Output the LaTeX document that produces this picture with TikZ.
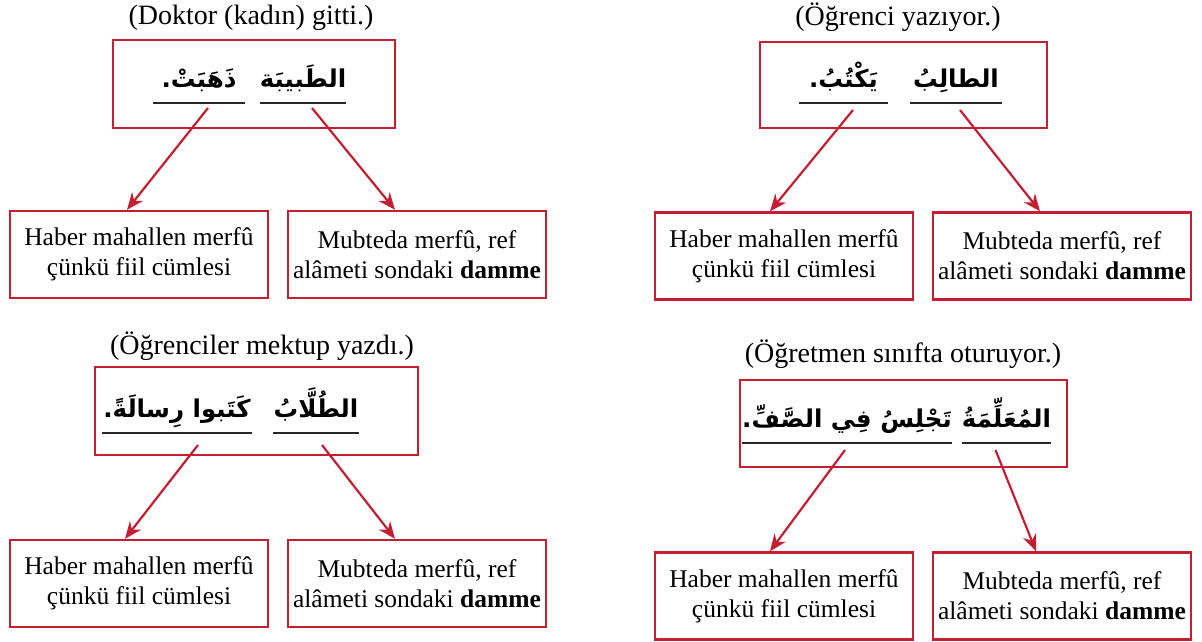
\documentclass[tikz,border=0pt]{standalone}
\usepackage{fontspec}
\setmainfont{Liberation Serif}
\newfontfamily\arabicfont[Script=Arabic]{DejaVu Sans}
\TeXXeTstate=1
\usetikzlibrary{arrows.meta, calc}
\definecolor{boxred}{RGB}{196,30,50}
\definecolor{lineblack}{RGB}{40,40,40}
\newcommand{\arword}[1]{{\arabicfont\bfseries\beginR #1\endR}}

\begin{document}
\begin{tikzpicture}[
		x=1pt, y=-1pt,
		caption/.style	={ font=\fontsize{28}{32}\selectfont,
			anchor=base, inner sep=0pt,
		},
		sentence/.style	={ draw=boxred, line width=2.4pt, inner sep=0pt,
		},
		word/.style	={ font=\fontsize{24.5}{30}\selectfont,
			anchor=south, inner sep=0pt, text height=24pt, text depth=15pt,
		},
		uline/.style	={ draw=lineblack, line width=2pt,
		},
		expl/.style	={ draw=boxred, line width=2.4pt,
			minimum width=258pt, minimum height=87pt, inner sep=0pt,
			align=center, font=\fontsize{25.5}{30}\selectfont,
		},
		link/.style	={ draw=boxred, line width=2.2pt,
			-{Stealth[length=17pt, width=14pt]},
		},
	]
	\useasboundingbox (0,0) rectangle (1202,641);

	% captions
	\node [caption] (cap_1) at (251,24) {(Doktor (kadın) gitti.)};
	\node [caption] (cap_2) at (898,25) {(Öğrenci yazıyor.)};
	\node [caption] (cap_3) at (262,354) {(Öğrenciler mektup yazdı.)};
	\node [caption] (cap_4) at (903,362) {(Öğretmen sınıfta oturuyor.)};

	% sentence boxes
	\node [sentence, minimum width=282pt, minimum height=88pt] (sent_1) at (254,84) {};
	\node [sentence, minimum width=287pt, minimum height=86pt] (sent_2) at (903.5,85) {};
	\node [sentence, minimum width=323pt, minimum height=88pt] (sent_3) at (256.5,411) {};
	\node [sentence, minimum width=327pt, minimum height=87pt] (sent_4) at (903.5,423.5) {};

	% arabic words
	\node [word, minimum width=74pt] (isim_1) at (303,103) {\arword{الطَبيبَة}};
	\node [word, minimum width=92pt] (fiil_1) at (199,103) {\arword{ذَهَبَتْ.}};
	\node [word, minimum width=92pt] (isim_2) at (956,103) {\arword{الطالِبُ}};
	\node [word, minimum width=89pt] (fiil_2) at (843.5,103) {\arword{يَكْتُبُ.}};
	\node [word, minimum width=86pt] (isim_3) at (316,433) {\arword{الطُلَّابُ}};
	\node [word, minimum width=150pt] (fiil_3) at (177,433) {\arword{كَتَبوا رِسالَةً.}};
	\node [word, minimum width=71pt] (isim_4) at (1006.5,443) {\arword{المُعَلِّمَةُ}};
	\node [word, minimum width=200pt] (fiil_4) at (847,443) {\arword{تَجْلِسُ فِي الصَّفِّ.}};

	% underlines
	\foreach \w in {isim_1, fiil_1, isim_2, fiil_2, isim_3, fiil_3, isim_4, fiil_4}
		\draw [uline] (\w.south west) -- (\w.south east);

	% explanation boxes
	\foreach \x/\y/\n in {139/254.5/1, 784/256/2, 139/583.5/3, 784/596/4} {
		\node [expl] (haber_\n) at (\x,\y) {Haber mahallen merfû\\çünkü fiil cümlesi};
		\node [expl] (mubt_\n) at (\x+278,\y) {Mubteda merfû, ref\\alâmeti sondaki \textbf{damme}};
	}

	% arrows
	\draw [link] ($(fiil_1.south)+(9,5)$) -- ($(haber_1.north)+(-12,0)$);
	\draw [link] ($(isim_1.south)+(9,5)$) -- ($(mubt_1.north)+(-22,0)$);
	\draw [link] ($(fiil_2.south)+(9.5,7)$) -- ($(haber_2.north)+(-14,0)$);
	\draw [link] ($(isim_2.south)+(4,7)$) -- ($(mubt_2.north)+(-22,0)$);
	\draw [link] ($(fiil_3.south)+(21,12)$) -- ($(haber_3.north)+(-14,0)$);
	\draw [link] ($(isim_3.south)+(6,12)$) -- ($(mubt_3.north)+(-22,0)$);
	\draw [link] ($(fiil_4.south)+(-2,7)$) -- ($(haber_4.north)+(-14,0)$);
	\draw [link] ($(isim_4.south)+(-11,7)$) -- ($(mubt_4.north)+(-26,0)$);

\end{tikzpicture}
\end{document}
